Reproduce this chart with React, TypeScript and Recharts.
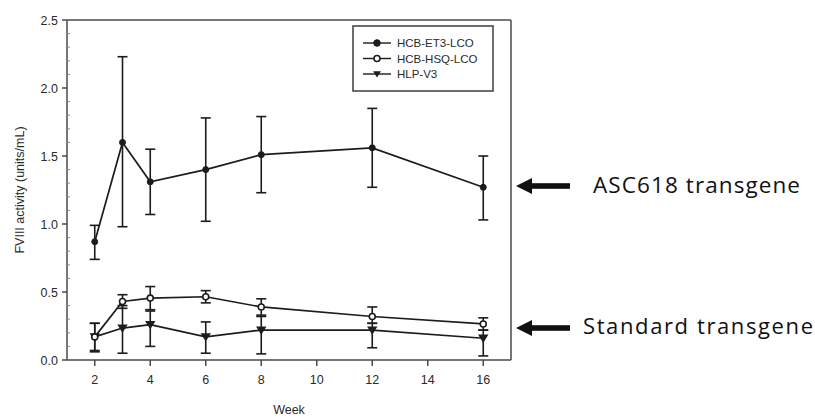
import { LineChart, Line, XAxis, YAxis, ErrorBar, ReferenceLine } from "recharts";

const weeks = [2, 3, 4, 6, 8, 12, 16];

const et3Mean = [0.87, 1.6, 1.31, 1.4, 1.51, 1.56, 1.27];
const et3Hi = [0.99, 2.23, 1.55, 1.78, 1.79, 1.85, 1.5];
const et3Lo = [0.74, 0.98, 1.07, 1.02, 1.23, 1.27, 1.03];

const hsqMean = [0.17, 0.43, 0.455, 0.465, 0.39, 0.32, 0.265];
const hsqHi = [0.27, 0.48, 0.54, 0.51, 0.45, 0.39, 0.31];
const hsqLo = [0.07, 0.38, 0.37, 0.42, 0.33, 0.27, 0.22];

const hlpMean = [0.17, 0.235, 0.26, 0.17, 0.22, 0.22, 0.16];
const hlpHi = [0.27, 0.4, 0.36, 0.28, 0.32, 0.27, 0.22];
const hlpLo = [0.06, 0.05, 0.1, 0.05, 0.045, 0.09, 0.03];

const xTicks = [2, 4, 6, 8, 10, 12, 14, 16];
const yTicks = Array.from({ length: 26 }, (_, i) => +(i * 0.1).toFixed(1));

const seriesNames = ["HCB-ET3-LCO", "HCB-HSQ-LCO", "HLP-V3"];

const data = weeks.map((w, i) => ({
  week: w,
  et3: et3Mean[i],
  et3Err: [et3Mean[i] - et3Lo[i], et3Hi[i] - et3Mean[i]],
  hsq: hsqMean[i],
  hsqErr: [hsqMean[i] - hsqLo[i], hsqHi[i] - hsqMean[i]],
  hlp: hlpMean[i],
  hlpErr: [hlpMean[i] - hlpLo[i], hlpHi[i] - hlpMean[i]],
}));

const INK = "#1c1c1c";
const AXIS = "#4a4a4a";
const FONT = "'Liberation Sans', Arial, sans-serif";

function FilledDot(props: any) {
  const { cx, cy, r = 4.3 } = props;
  if (cx == null || cy == null) return null;
  return <circle cx={cx} cy={cy} r={r} fill={INK} stroke={INK} strokeWidth={1} />;
}

function OpenDot(props: any) {
  const { cx, cy, r = 4 } = props;
  if (cx == null || cy == null) return null;
  return <circle cx={cx} cy={cy} r={r} fill="#fff" stroke={INK} strokeWidth={1.6} />;
}

function TriDot(props: any) {
  const { cx, cy, s = 5.2 } = props;
  if (cx == null || cy == null) return null;
  return (
    <path
      d={`M${cx - s},${cy - s * 0.7} L${cx + s},${cy - s * 0.7} L${cx},${cy + s * 0.9} Z`}
      fill={INK}
    />
  );
}

// y tick: major ticks (every 0.5) point outward with label, minor ones are short inward marks
function YTick(props: any) {
  const { x, y, payload } = props;
  const v = payload.value;
  const major = Math.abs(v * 2 - Math.round(v * 2)) < 1e-6;
  const axisX = x + 9;
  if (!major) {
    return <line x1={axisX} x2={axisX + 3} y1={y} y2={y} stroke="#888" strokeWidth={1} />;
  }
  return (
    <g>
      <line x1={axisX - 5} x2={axisX} y1={y} y2={y} stroke={AXIS} strokeWidth={1.5} />
      <text x={x} y={y} dy={4.5} textAnchor="end" fontSize={12.5} fontFamily={FONT} fill="#2a2a2a">
        {v.toFixed(1)}
      </text>
    </g>
  );
}

function LegendBox({ x, y }: { x: number; y: number }) {
  const symbols = [
    (sx: number, sy: number) => <FilledDot cx={sx} cy={sy} r={3.3} />,
    (sx: number, sy: number) => <OpenDot cx={sx} cy={sy} r={3} />,
    (sx: number, sy: number) => <TriDot cx={sx} cy={sy} s={3.9} />,
  ];
  return (
    <g transform={`translate(${x},${y})`}>
      <rect x={0} y={0} width={140} height={65} fill="#fff" stroke={AXIS} strokeWidth={1.6} />
      {seriesNames.map((name, i) => {
        const ly = 17 + i * 15.5;
        return (
          <g key={name}>
            <line x1={10} x2={38} y1={ly} y2={ly} stroke={INK} strokeWidth={1.4} />
            {symbols[i](24, ly)}
            <text x={44} y={ly + 4} fontSize={11.5} fontFamily={FONT} fill="#2a2a2a">
              {name}
            </text>
          </g>
        );
      })}
    </g>
  );
}

function Arrow({ x, y, len }: { x: number; y: number; len: number }) {
  return (
    <g>
      <path d={`M${x},${y} L${x + 16},${y - 8} L${x + 16},${y + 8} Z`} fill="#111" />
      <rect x={x + 14} y={y - 2.8} width={len - 14} height={5.6} fill="#111" />
    </g>
  );
}

export default function App() {
  return (
    <div
      style={{
        position: "absolute",
        left: 0,
        top: 0,
        width: 815,
        height: 418,
        background: "#fff",
      }}
    >
      <LineChart
        width={815}
        height={418}
        data={data}
        margin={{ top: 20, right: 304, bottom: 0, left: 0 }}
      >
        <XAxis
          dataKey="week"
          type="number"
          domain={[1, 17]}
          ticks={xTicks}
          height={58}
          tickSize={6}
          tickMargin={9}
          stroke={AXIS}
          strokeWidth={1.5}
          tick={{ fill: "#2a2a2a", fontSize: 12.5, fontFamily: FONT }}
          label={{
            value: "Week",
            position: "insideBottom",
            offset: 4,
            fill: "#2a2a2a",
            fontSize: 12.5,
            fontFamily: FONT,
          }}
        />
        <YAxis
          type="number"
          domain={[0, 2.5]}
          ticks={yTicks}
          interval={0}
          width={67}
          tickSize={5}
          tickMargin={4}
          tickLine={false}
          stroke={AXIS}
          strokeWidth={1.5}
          tick={<YTick />}
          label={{
            value: "FVIII activity (units/mL)",
            angle: -90,
            position: "insideLeft",
            offset: 20,
            style: { textAnchor: "middle" },
            fill: "#2a2a2a",
            fontSize: 12.5,
            fontFamily: FONT,
          }}
        />
        <ReferenceLine y={2.5} stroke={AXIS} strokeWidth={1.5} />
        <ReferenceLine x={17} stroke={AXIS} strokeWidth={1.5} />
        <Line
          dataKey="hlp"
          name={seriesNames[2]}
          stroke={INK}
          strokeWidth={1.7}
          dot={<TriDot />}
          isAnimationActive={false}
        >
          <ErrorBar dataKey="hlpErr" direction="y" width={5} stroke={INK} strokeWidth={1.6} />
        </Line>
        <Line
          dataKey="hsq"
          name={seriesNames[1]}
          stroke={INK}
          strokeWidth={1.7}
          dot={<OpenDot />}
          isAnimationActive={false}
        >
          <ErrorBar dataKey="hsqErr" direction="y" width={5} stroke={INK} strokeWidth={1.6} />
        </Line>
        <Line
          dataKey="et3"
          name={seriesNames[0]}
          stroke={INK}
          strokeWidth={1.7}
          dot={<FilledDot />}
          isAnimationActive={false}
        >
          <ErrorBar dataKey="et3Err" direction="y" width={5} stroke={INK} strokeWidth={1.6} />
        </Line>
      </LineChart>
      <svg
        width={815}
        height={418}
        style={{ position: "absolute", left: 0, top: 0, pointerEvents: "none" }}
      >
        <LegendBox x={353} y={26} />
        <Arrow x={516} y={186} len={54} />
        <text
          x={593}
          y={193}
          fontSize={22.5}
          textLength={207}
          fontFamily="'Open Sans', 'Noto Sans', sans-serif"
          fill="#111"
        >
          ASC618 transgene
        </text>
        <Arrow x={516} y={328} len={54} />
        <text
          x={583}
          y={334}
          fontSize={22}
          textLength={230}
          fontFamily="'Open Sans', 'Noto Sans', sans-serif"
          fill="#111"
        >
          Standard transgene
        </text>
      </svg>
    </div>
  );
}
